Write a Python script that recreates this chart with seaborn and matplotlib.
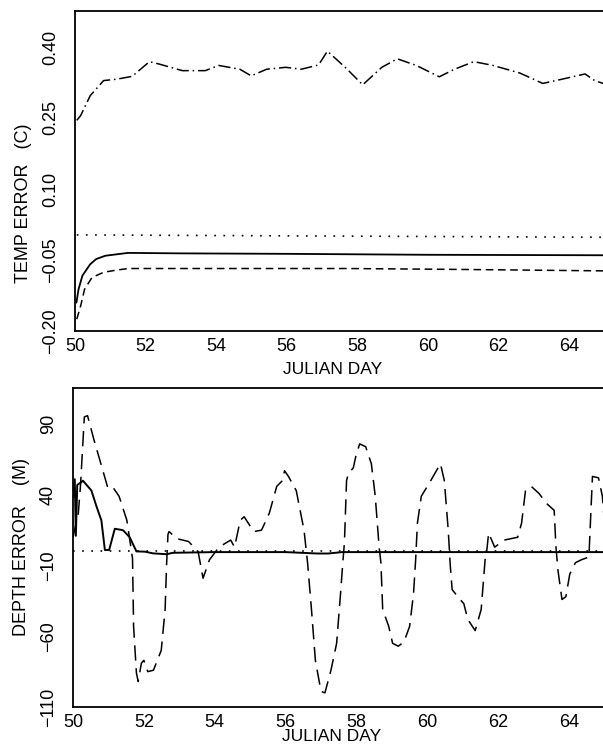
import matplotlib
matplotlib.use("Agg")
import matplotlib.pyplot as plt
import seaborn as sns

sns.set_style("white")
plt.rcParams['font.family'] = ['Liberation Sans', 'DejaVu Sans']
plt.rcParams['axes.unicode_minus'] = True

# ---------------- data ----------------
day_ticks = [50, 52, 54, 56, 58, 60, 62, 64]
day_tick_labels = ["50", "52", "54", "56", "58", "60", "62", "64"]

temp_ticks = [-0.20, -0.05, 0.10, 0.25, 0.40]
temp_tick_labels = ["\u22120.20", "\u22120.05", "0.10", "0.25", "0.40"]

depth_ticks = [-110, -60, -10, 40, 90]
depth_tick_labels = ["\u2212110", "\u221260", "\u221210", "40", "90"]

# top panel: dash-dot curve
temp_dd_day = [50.05, 50.16, 50.43, 50.81, 51.19, 51.62, 52.11, 52.38, 53.04, 53.69,
               54.07, 54.67, 54.99, 55.43, 55.97, 56.41, 56.9, 57.15, 57.39, 57.71,
               58.15, 58.69, 59.13, 59.67, 60.32, 60.75, 61.3, 61.84, 62.6, 63.25,
               63.8, 64.45, 64.72, 65.0]
temp_dd = [0.245, 0.255, 0.297, 0.329, 0.332, 0.338, 0.369, 0.364, 0.350, 0.350,
           0.361, 0.353, 0.339, 0.353, 0.357, 0.353, 0.362, 0.391, 0.375, 0.353,
           0.320, 0.357, 0.375, 0.361, 0.337, 0.353, 0.369, 0.361, 0.345, 0.323,
           0.332, 0.343, 0.329, 0.322]

# top panel: dotted curve
temp_dot_day = [50.05, 65.0]
temp_dot = [0.003, -0.002]

# top panel: solid curve
temp_sol_day = [50.04, 50.1, 50.21, 50.43, 50.6, 50.86, 51.5, 53.0, 56.0, 60.0, 65.0]
temp_sol = [-0.14, -0.112, -0.083, -0.059, -0.048, -0.041, -0.035, -0.036, -0.037, -0.039, -0.040]

# top panel: dashed curve
temp_dash_day = [50.05, 50.16, 50.27, 50.48, 50.81, 51.2, 51.52, 54.0, 57.7, 61.0, 65.0]
temp_dash = [-0.175, -0.147, -0.112, -0.087, -0.076, -0.071, -0.068, -0.068, -0.068, -0.070, -0.073]

# bottom panel: solid curve
depth_sol_day = [50.0, 50.05, 50.08, 50.12, 50.24, 50.28, 50.52, 50.66, 50.80, 50.9,
                 51.02, 51.18, 51.41, 51.6, 51.79, 52.03, 52.26, 52.64, 52.82, 54.0,
                 56.0, 56.9, 57.2, 57.6, 60.0, 65.0]
depth_sol = [38, 51, 11, 47, 49, 50, 43, 32, 22, 1,
             1, 16, 15, 10, 0, -0.2, -1.4, -2, -1, -0.5,
             -0.5, -1.5, -1.5, -0.5, -0.5, -0.5]

# bottom panel: dotted curve
depth_dot_day = [50.0, 65.0]
depth_dot = [0.0, 0.0]

# bottom panel: dashed curve
depth_dash_day = [50.0, 50.15, 50.21, 50.32, 50.41, 50.59, 50.81, 50.97, 51.08, 51.3,
                  51.52, 51.68, 51.71, 51.79, 51.84, 51.93, 52.0, 52.11, 52.27, 52.49,
                  52.6, 52.64, 52.68, 52.71, 52.93, 53.26, 53.53, 53.67, 53.85, 54.12,
                  54.45, 54.56, 54.72, 54.83, 55.1, 55.32, 55.54, 55.75, 55.91, 55.97,
                  56.08, 56.3, 56.52, 56.62, 56.73, 56.84, 57.0, 57.11, 57.28, 57.44,
                  57.55, 57.62, 57.66, 57.72, 57.77, 57.91, 57.98, 58.09, 58.26, 58.42,
                  58.53, 58.64, 58.69, 58.74, 58.91, 59.02, 59.18, 59.34, 59.5, 59.61,
                  59.67, 59.72, 59.83, 60.05, 60.21, 60.37, 60.48, 60.59, 60.65, 60.7,
                  60.86, 61.03, 61.14, 61.35, 61.52, 61.63, 61.68, 61.73, 61.9, 62.17,
                  62.55, 62.66, 62.77, 62.93, 63.15, 63.36, 63.58, 63.63, 63.69, 63.8,
                  63.91, 64.02, 64.18, 64.34, 64.56, 64.66, 64.83, 64.94, 65.0]
depth_dash = [10, 27, 46, 95, 96, 79, 60, 46, 47, 39,
              22, -5, -53, -86, -92, -79, -77, -85, -84, -70,
              -41, -10, 12, 14, 9, 7, 0, -19, -6, 3,
              8, 3, 22, 24.5, 14, 15, 27, 46, 50, 57,
              53, 43, 15, -8, -41, -77, -99, -100, -84, -65,
              -30, -6, 6, 50, 55, 59, 67, 76, 74, 62,
              39, 3, -8, -41, -53, -65, -67, -64, -53, -30,
              -6, 20, 39, 48, 55, 62, 50, 15, -11, -27,
              -32, -37, -48, -56, -41, -6, 1, 13, 3, 8,
              10, 20, 43, 46, 41, 34, 29, 3, -14, -34,
              -32, -16, -8, -6, -4, 53, 52, 39, 20]

# ---------------- figure ----------------
W, H = 603, 749
fig = plt.figure(figsize=(W / 100, H / 100), dpi=100)
ax1 = fig.add_axes([75 / W, 1 - 331 / H, (604.5 - 75) / W, 320 / H])
ax2 = fig.add_axes([73 / W, 1 - 707 / H, (604.5 - 73) / W, 319 / H])

k = dict(color="black", legend=False)
sns.lineplot(x=temp_dd_day, y=temp_dd, ax=ax1, lw=1.1, linestyle=(0, (8, 2.5, 1, 2.5)), **k)
sns.lineplot(x=temp_dot_day, y=temp_dot, ax=ax1, lw=1.2, linestyle=(0, (1, 4.5)), **k)
sns.lineplot(x=temp_sol_day, y=temp_sol, ax=ax1, lw=1.3, linestyle="-", **k)
sns.lineplot(x=temp_dash_day, y=temp_dash, ax=ax1, lw=1.1, linestyle=(0, (5, 3)), **k)

sns.lineplot(x=depth_dot_day, y=depth_dot, ax=ax2, lw=1.2, linestyle=(0, (1, 4.5)), **k)
sns.lineplot(x=depth_sol_day, y=depth_sol, ax=ax2, lw=1.4, linestyle="-", **k)
sns.lineplot(x=depth_dash_day, y=depth_dash, ax=ax2, lw=1.1, linestyle=(0, (10, 5)), **k)

for ax, yt, yl, ylim, ylabel, lab_y, xlab_y in (
        (ax1, temp_ticks, temp_tick_labels, (-0.20, 0.476), "TEMP ERROR   (C)", 0.40, -0.097),
        (ax2, depth_ticks, depth_tick_labels, (-110, 115.5), "DEPTH ERROR    (M)", 0.50, -0.070)):
    ax.set_xlim(50, 65)
    ax.set_ylim(*ylim)
    ax.set_xticks(day_ticks, day_tick_labels)
    ax.set_yticks(yt, yl, rotation=90, va="center")
    ax.tick_params(axis="both", direction="in", length=5, width=1, labelsize=13,
                   color="black", labelcolor="black")
    ax.tick_params(axis="y", pad=11.5)
    ax.tick_params(axis="x", pad=5)
    for side in ("left", "top", "bottom"):
        ax.spines[side].set_linewidth(1.3)
        ax.spines[side].set_color("black")
    ax.spines["right"].set_visible(False)
    ax.set_xlabel("JULIAN DAY", fontsize=12.5, color="black")
    ax.set_ylabel(ylabel, fontsize=13, color="black")
    ax.xaxis.set_label_coords(0.486, xlab_y)
    ax.yaxis.set_label_coords(-0.081, lab_y)
    ax.grid(False)

fig.savefig("out.png", dpi=100)
